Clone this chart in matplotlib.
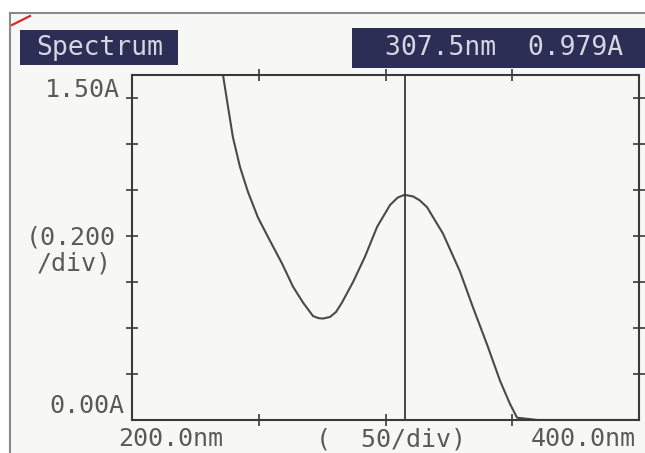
import matplotlib
matplotlib.use("Agg")
import matplotlib.pyplot as plt
from matplotlib.patches import Rectangle
from matplotlib.lines import Line2D

# spectrum trace (nm, absorbance)
wavelength = [235.9, 237.9, 239.8, 242.6, 245.8, 249.7, 254.4, 259.2, 263.5, 267.5,
              271.4, 273.5, 275.3, 278.1, 280.5, 282.8, 287.2, 291.9, 296.7, 301.8,
              304.8, 307.5, 310.9, 313.5, 316.4, 322.7, 329.4, 334.5, 340.0, 345.2,
              349.1, 351.9, 360.0, 400.0]
absorbance = [1.50, 1.36, 1.23, 1.10, 0.99, 0.88, 0.78, 0.68, 0.58, 0.51,
              0.452, 0.443, 0.441, 0.448, 0.47, 0.51, 0.60, 0.71, 0.84, 0.935,
              0.967, 0.979, 0.972, 0.955, 0.925, 0.81, 0.645, 0.49, 0.33, 0.17,
              0.07, 0.01, 0.0, 0.0]

cursor_nm = 307.5
cursor_abs = 0.979
x_ticks = [250, 300, 350]
y_ticks = [0.2, 0.4, 0.6, 0.8, 1.0, 1.2, 1.4]

W, H = 645, 453
INK = "#3a3a3a"
TXT = "#5a5a5a"
NAVY = "#2c2e55"
MONO = "DejaVu Sans Mono"

def fx(px):
    return px / W

def fy(py):
    return 1 - py / H

fig = plt.figure(figsize=(W / 100, H / 100), dpi=100, facecolor="white")

# scanned paper area + frame lines
fig.patches.append(Rectangle((fx(10), 0), 1 - fx(10), fy(13), transform=fig.transFigure,
                             facecolor="#f7f7f6", edgecolor="none", zorder=-5))
fig.lines.append(Line2D([fx(10), 1], [fy(13), fy(13)], transform=fig.transFigure,
                        color="#8a8a8a", lw=1.5))
fig.lines.append(Line2D([fx(10), fx(10)], [fy(13), 0], transform=fig.transFigure,
                        color="#8a8a8a", lw=1.5))
fig.lines.append(Line2D([fx(12), fx(30)], [fy(25), fy(16)], transform=fig.transFigure,
                        color="#d8282a", lw=1.6))

ax = fig.add_axes([fx(132), fy(420), fx(639) - fx(132), fy(75) - fy(420)])
ax.set_zorder(3)
ax.set_facecolor("none")
ax.plot(wavelength, absorbance, color="#4a4a4a", lw=1.5, clip_on=True,
        solid_joinstyle="round")
ax.axvline(cursor_nm, color=INK, lw=1.3)
ax.set_xlim(200, 400)
ax.set_ylim(0, 1.5)
ax.set_xticks(x_ticks)
ax.set_yticks(y_ticks)
ax.tick_params(direction="inout", length=8, width=1.2, color=INK,
               top=True, right=True, labelbottom=False, labelleft=False)
for s in ax.spines.values():
    s.set_color(INK)
    s.set_linewidth(1.5)

# header boxes
fig.patches.append(Rectangle((fx(20), fy(65)), fx(178) - fx(20), fy(30) - fy(65),
                             transform=fig.transFigure, facecolor=NAVY, edgecolor="none"))
fig.text(fx(100), fy(48), "Spectrum", ha="center", va="center", family=MONO,
         fontsize=19, color="#d6d6e2")
fig.patches.append(Rectangle((fx(352), fy(68)), 1 - fx(352), fy(28) - fy(68),
                             transform=fig.transFigure, facecolor=NAVY, edgecolor="none"))
fig.text(fx(504), fy(48), f"{cursor_nm:.1f}nm  {cursor_abs:.3f}A", ha="center",
         va="center", family=MONO, fontsize=19, color="#d6d6e2")

# axis annotations
kw = dict(family=MONO, fontsize=18, color=TXT, va="center")
fig.text(fx(120), fy(90), "1.50A", ha="right", **kw)
fig.text(fx(116), fy(237), "(0.200", ha="right", **kw)
fig.text(fx(112), fy(264), "/div)", ha="right", **kw)
fig.text(fx(124), fy(406), "0.00A", ha="right", **kw)
fig.text(fx(118), fy(439), "200.0nm", ha="left", **kw)
fig.text(fx(316), fy(439), "(  50/div)", ha="left", **kw)
fig.text(fx(531), fy(439), "400.0nm", ha="left", **kw)

fig.savefig("out.png", dpi=100, facecolor=fig.get_facecolor())
